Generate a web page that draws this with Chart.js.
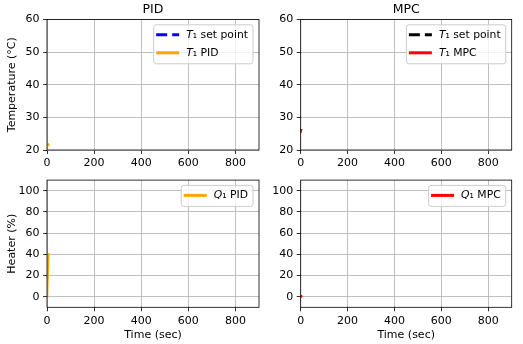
<!DOCTYPE html>
<html>
<head>
<meta charset="utf-8">
<script src="https://cdn.jsdelivr.net/npm/chart.js@4.4.1/dist/chart.umd.min.js"></script>
<style>
  html, body { margin: 0; padding: 0; background: #fff; }
  #fig { position: relative; width: 523px; height: 344px; }
  #fig canvas { position: absolute; }
</style>
</head>
<body>
<div id="fig">
  <canvas id="pidTemp" width="262" height="170" style="left:0;top:0"></canvas>
  <canvas id="mpcTemp" width="261" height="170" style="left:262px;top:0"></canvas>
  <canvas id="pidHeat" width="262" height="174" style="left:0;top:170px"></canvas>
  <canvas id="mpcHeat" width="261" height="174" style="left:262px;top:170px"></canvas>
</div>
<script>
// tick labels
const timeTicks = [0, 200, 400, 600, 800];
const tempTicks = [20, 30, 40, 50, 60];
const heaterTicks = [0, 20, 40, 60, 80, 100];

// series (only the first seconds of the run are shown)
const pidTime = [0, 5];
const pidT1 = [21.4, 21.6];
const pidSetTime = [];
const pidSetPoint = [];
const pidQTime = [0, 5];
const pidQ1 = [0, 40];

const mpcTime = [0, 1.5];
const mpcT1 = [25.7, 26.1];
const mpcSetTime = [];
const mpcSetPoint = [];
const mpcQTime = [0, 2];
const mpcQ1 = [0, 0.4];

Chart.defaults.font.family = '"DejaVu Sans", sans-serif';
Chart.defaults.font.size = 11;
Chart.defaults.color = "#000";

function pts(xs, ys) {
  return xs.map((x, i) => ({ x: x, y: ys[i] }));
}

// black box round the axes
const frame = {
  id: "frame",
  afterDatasetsDraw(chart) {
    const { ctx, chartArea: a } = chart;
    ctx.save();
    ctx.strokeStyle = "#000";
    ctx.lineWidth = 0.8;
    ctx.strokeRect(a.left, a.top, a.right - a.left, a.bottom - a.top);
    ctx.restore();
  },
};

// matplotlib style legend in the upper right corner
const mplLegend = {
  id: "mplLegend",
  afterDraw(chart) {
    const { ctx, chartArea: a } = chart;
    const items = chart.data.datasets;
    const size = 10.8;
    const fam = Chart.defaults.font.family;
    ctx.save();
    function labelWidth(txt) {
      ctx.font = "italic " + size + "px " + fam;
      let w = ctx.measureText(txt[0]).width;
      ctx.font = size + "px " + fam;
      return w + ctx.measureText(txt.slice(1)).width;
    }
    const textW = Math.max(...items.map((d) => labelWidth(d.label)));
    const w = 2.5 + 23 + 7 + textW + 5;
    const h = 10 + (items.length - 1) * 18 + 11;
    const x0 = a.right - 6 - w;
    const y0 = a.top + 5.3;
    ctx.beginPath();
    ctx.roundRect(x0, y0, w, h, 2.5);
    ctx.fillStyle = "rgba(255,255,255,0.8)";
    ctx.fill();
    ctx.strokeStyle = "#cccccc";
    ctx.lineWidth = 1;
    ctx.stroke();
    items.forEach((d, i) => {
      const cy = y0 + 10 + i * 18;
      ctx.beginPath();
      ctx.setLineDash(d.borderDash || []);
      ctx.strokeStyle = d.borderColor;
      ctx.lineWidth = 3;
      ctx.moveTo(x0 + 2.5, cy);
      ctx.lineTo(x0 + 25.5, cy);
      ctx.stroke();
      ctx.setLineDash([]);
      ctx.fillStyle = "#000";
      ctx.textBaseline = "middle";
      ctx.textAlign = "left";
      let tx = x0 + 32.5;
      ctx.font = "italic " + size + "px " + fam;
      ctx.fillText(d.label[0], tx, cy);
      tx += ctx.measureText(d.label[0]).width;
      ctx.font = size + "px " + fam;
      ctx.fillText(d.label.slice(1), tx, cy);
    });
    ctx.restore();
  },
};

function axes(yTicks, yMin, yMax, yWidth, xHeight, yTitle, xTitle) {
  const grid = {
    color: "#b0b0b0",
    lineWidth: 0.8,
    tickLength: 4,
    tickColor: "#000",
    tickWidth: 0.8,
  };
  return {
    x: {
      type: "linear",
      min: 0,
      max: 900,
      afterBuildTicks: (s) => { s.ticks = timeTicks.map((v) => ({ value: v })); },
      afterFit: (s) => { s.height = xHeight; },
      grid: grid,
      border: { display: false },
      ticks: { padding: 3, maxRotation: 0, autoSkip: false },
      title: { display: !!xTitle, text: xTitle, padding: { top: 0, bottom: 2.5 } },
    },
    y: {
      min: yMin,
      max: yMax,
      afterBuildTicks: (s) => { s.ticks = yTicks.map((v) => ({ value: v })); },
      afterFit: (s) => { s.width = yWidth; },
      grid: grid,
      border: { display: false },
      ticks: { padding: 3.5 },
      title: { display: !!yTitle, text: yTitle, padding: { top: 5.5, bottom: 0 } },
    },
  };
}

function makeChart(id, datasets, opts) {
  new Chart(document.getElementById(id), {
    type: "line",
    data: { datasets: datasets },
    options: {
      responsive: false,
      animation: false,
      layout: { padding: { top: opts.top, right: opts.right, left: 0, bottom: 0 } },
      elements: { point: { radius: 0 }, line: { tension: 0, borderCapStyle: "square" } },
      plugins: {
        legend: { display: false },
        tooltip: { enabled: false },
        title: {
          display: !!opts.title,
          text: opts.title,
          fullSize: false,
          font: { size: 12.5, weight: "normal" },
          color: "#000",
          padding: { top: 2, bottom: 2.5 },
        },
      },
      scales: axes(opts.yTicks, opts.yMin, opts.yMax, opts.yWidth, opts.xHeight, opts.yTitle, opts.xTitle),
    },
    plugins: [frame, mplLegend],
  });
}

makeChart("pidTemp", [
  { label: "T\u2081 set point", data: pts(pidSetTime, pidSetPoint), borderColor: "#0000ff", borderDash: [11, 5], borderWidth: 3 },
  { label: "T\u2081 PID", data: pts(pidTime, pidT1), borderColor: "#ffa500", borderWidth: 2.5 },
], { title: "PID", top: 0, right: 3, yTicks: tempTicks, yMin: 20, yMax: 60, yWidth: 47, xHeight: 20, yTitle: "Temperature (\u00b0C)" });

makeChart("mpcTemp", [
  { label: "T\u2081 set point", data: pts(mpcSetTime, mpcSetPoint), borderColor: "#000000", borderDash: [11, 5], borderWidth: 3 },
  { label: "T\u2081 MPC", data: pts(mpcTime, mpcT1), borderColor: "#ff0000", borderWidth: 2.5 },
], { title: "MPC", top: 0, right: 11.3, yTicks: tempTicks, yMin: 20, yMax: 60, yWidth: 38.7, xHeight: 20 });

makeChart("pidHeat", [
  { label: "Q\u2081 PID", data: pts(pidQTime, pidQ1), borderColor: "#ffa500", borderWidth: 2.5 },
], { top: 6, right: 3, yTicks: heaterTicks, yMin: -10, yMax: 110, yWidth: 47, xHeight: 36.7, yTitle: "Heater (%)", xTitle: "Time (sec)" });

makeChart("mpcHeat", [
  { label: "Q\u2081 MPC", data: pts(mpcQTime, mpcQ1), borderColor: "#ff0000", borderWidth: 2.5 },
], { top: 6, right: 11.3, yTicks: heaterTicks, yMin: -10, yMax: 110, yWidth: 38.7, xHeight: 36.7, xTitle: "Time (sec)" });
</script>
</body>
</html>
